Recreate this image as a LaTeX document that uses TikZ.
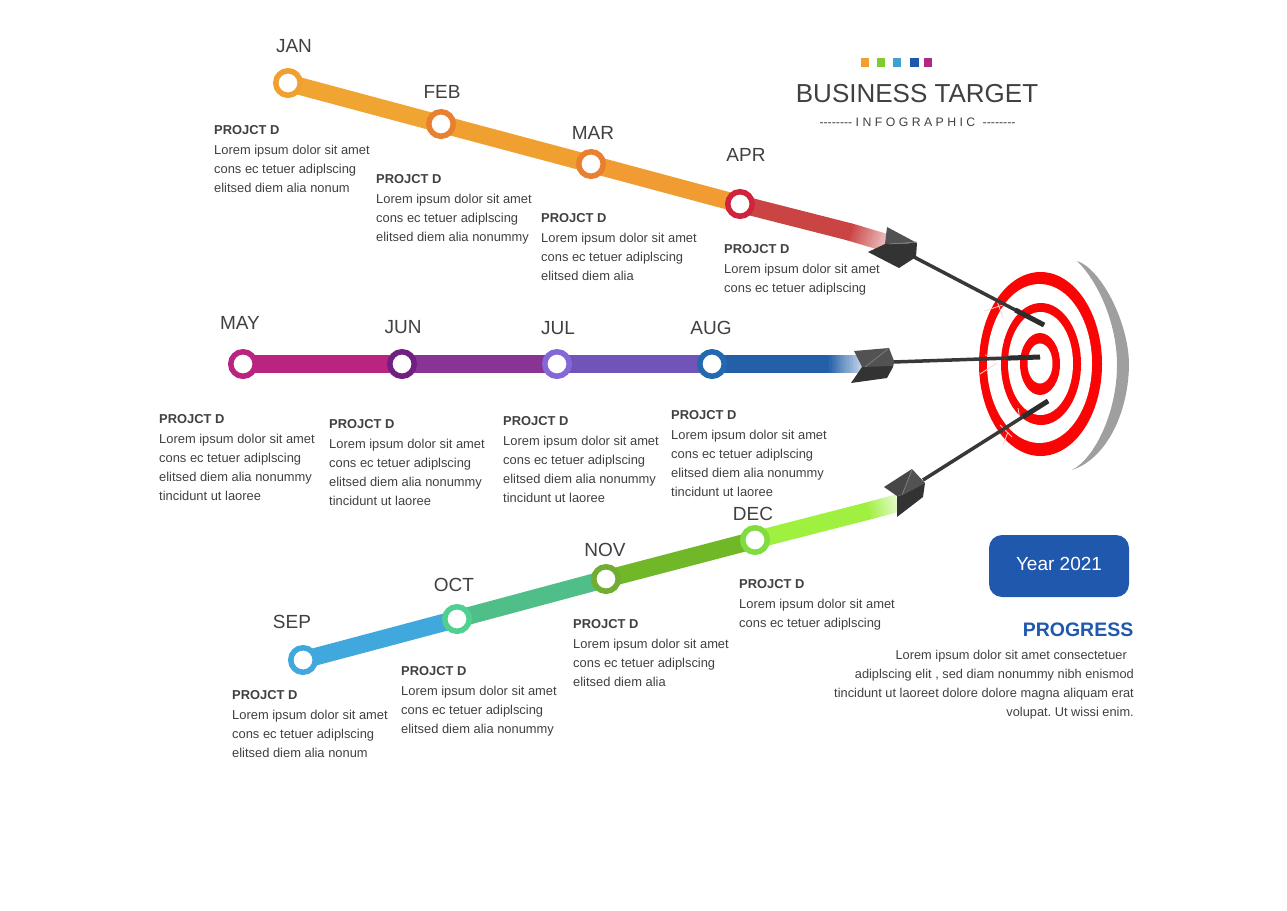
\documentclass[tikz,border=0pt]{standalone}
\usepackage{fontspec}
\setmainfont{Liberation Sans}
\newfontfamily\plainfont{Liberation Sans}
\usetikzlibrary{backgrounds,calc}
\definecolor{textgray}{HTML}{404040}
\definecolor{targetred}{HTML}{FA0505}
\definecolor{yearblue}{HTML}{2058AE}
\definecolor{shaftgray}{HTML}{383838}
\definecolor{wingup}{HTML}{525252}
\definecolor{winglow}{HTML}{333333}
\definecolor{crackpink}{HTML}{F6D4D4}
\definecolor{ringjan}{HTML}{F0A030}
\definecolor{ringfeb}{HTML}{E88030}
\definecolor{ringapr}{HTML}{D0243C}
\definecolor{ringmay}{HTML}{B82480}
\definecolor{ringjun}{HTML}{702080}
\definecolor{ringjul}{HTML}{8468D8}
\definecolor{ringaug}{HTML}{2468B0}
\definecolor{ringsep}{HTML}{40A8DC}
\definecolor{ringoct}{HTML}{50D090}
\definecolor{ringnov}{HTML}{70AD30}
\definecolor{ringdec}{HTML}{80DC40}
\definecolor{bandjan}{HTML}{F0A532}
\definecolor{bandfeb}{HTML}{F0A030}
\definecolor{bandmar}{HTML}{F09C32}
\definecolor{bandapr}{HTML}{CB4444}
\definecolor{bandjun}{HTML}{883494}
\definecolor{bandjul}{HTML}{7054B8}
\definecolor{bandaug}{HTML}{2460A8}
\definecolor{bandoct}{HTML}{50BE88}
\definecolor{bandnov}{HTML}{70B828}
\definecolor{banddec}{HTML}{A0F040}
\definecolor{sqgreen}{HTML}{80CC30}
\definecolor{sqblue}{HTML}{40A0D0}
\definecolor{sqnavy}{HTML}{2058B0}
\definecolor{sqmagenta}{HTML}{B02888}
\tikzset{
  monthdot/.style={circle,draw=#1,line width=5.5pt,fill=white,minimum size=24.5pt,inner sep=0pt},
  monthname/.style={font=\fontsize{19}{22}\selectfont,text=textgray},
  note/.style={anchor=north west,inner sep=0pt,align=left,font=\fontsize{12.9}{19}\selectfont,text=textgray},
  square/.style={fill=#1,minimum size=8.5pt,inner sep=0pt},
  band/.style={line width=17.5pt,draw=#1},
  shaft/.style={line width=3.5pt,draw=shaftgray},
  shafttip/.style={line width=5pt,draw=shaftgray!80!black},
  crack/.style={line width=0.8pt,draw=crackpink}
}
\newcommand{\fadeline}[3]{
  \foreach \i in {0,...,15} {
    \pgfmathtruncatemacro{\fadepct}{100-\i*4.6}
    \draw[band=#3!\fadepct!white] ($(#1)!{(\i-0.3)/16}!(#2)$) -- ($(#1)!{(\i+1)/16}!(#2)$);
  }
}
\begin{document}
\begin{tikzpicture}[x=1pt,y=-1pt]
      \useasboundingbox (0,0) rectangle (1287,910);
      % months
      \draw
        (288,83) node[monthdot=ringjan] (jan){}
        (441,124) node[monthdot=ringfeb] (feb){}
        (591,164) node[monthdot=ringfeb] (mar){}
        (740,204) node[monthdot=ringapr] (apr){}
        (243,364) node[monthdot=ringmay] (may){}
        (402,364) node[monthdot=ringjun] (jun){}
        (557,364) node[monthdot=ringjul] (jul){}
        (712,364) node[monthdot=ringaug] (aug){}
        (303,660) node[monthdot=ringsep] (sep){}
        (457,619) node[monthdot=ringoct] (oct){}
        (606,579) node[monthdot=ringnov] (nov){}
        (755,540) node[monthdot=ringdec] (dec){};
      \draw
        (294,46.5) node[monthname] (janname){JAN}
        (442,91.5) node[monthname] (febname){FEB}
        (593,132.5) node[monthname] (marname){MAR}
        (746,154.5) node[monthname] (aprname){APR}
        (240,322.5) node[monthname] (mayname){MAY}
        (403,327.5) node[monthname] (junname){JUN}
        (558,328.5) node[monthname] (julname){JUL}
        (711,327.5) node[monthname] (augname){AUG}
        (292,621.5) node[monthname] (sepname){SEP}
        (454,584.5) node[monthname] (octname){OCT}
        (605,549.5) node[monthname] (novname){NOV}
        (753,513.5) node[monthname] (decname){DEC};
      % ends of the bands, under the arrows
      \coordinate (aprfade) at (850,232);
      \coordinate (aprend) at (890,244);
      \coordinate (augfade) at (828,364);
      \coordinate (augend) at (862,364);
      \coordinate (decfade) at (868,511);
      \coordinate (decend) at (898,503);
      \begin{scope}[on background layer]
        \draw[band=bandjan] (jan.center) to (feb.center);
        \draw[band=bandfeb] (feb.center) to (mar.center);
        \draw[band=bandmar] (mar.center) to (apr.center);
        \draw[band=bandapr] (apr.center) to (aprfade);
        \fadeline{aprfade}{aprend}{bandapr}
        \draw[band=ringmay] (may.center) to (jun.center);
        \draw[band=bandjun] (jun.center) to (jul.center);
        \draw[band=bandjul] (jul.center) to (aug.center);
        \draw[band=bandaug] (aug.center) to (augfade);
        \fadeline{augfade}{augend}{bandaug}
        \draw[band=ringsep] (sep.center) to (oct.center);
        \draw[band=bandoct] (oct.center) to (nov.center);
        \draw[band=bandnov] (nov.center) to (dec.center);
        \draw[band=banddec] (dec.center) to (decfade);
        \fadeline{decfade}{decend}{banddec}
      \end{scope}
      % notes
      \node[note] (jannote) at (214,125.5) {\textbf{PROJCT D}\\[1pt]Lorem ipsum dolor sit amet\\cons ec tetuer adiplscing\\elitsed diem alia nonum};
      \node[note] (febnote) at (376,174.5) {\textbf{PROJCT D}\\[1pt]Lorem ipsum dolor sit amet\\cons ec tetuer adiplscing\\elitsed diem alia nonummy};
      \node[note] (marnote) at (541,213.5) {\textbf{PROJCT D}\\[1pt]Lorem ipsum dolor sit amet\\cons ec tetuer adiplscing\\elitsed diem alia};
      \node[note] (aprnote) at (724,244.5) {\textbf{PROJCT D}\\[1pt]Lorem ipsum dolor sit amet\\cons ec tetuer adiplscing};
      \node[note] (maynote) at (159,414.5) {\textbf{PROJCT D}\\[1pt]Lorem ipsum dolor sit amet\\cons ec tetuer adiplscing\\elitsed diem alia nonummy\\tincidunt ut laoree};
      \node[note] (junnote) at (329,419.5) {\textbf{PROJCT D}\\[1pt]Lorem ipsum dolor sit amet\\cons ec tetuer adiplscing\\elitsed diem alia nonummy\\tincidunt ut laoree};
      \node[note] (julnote) at (503,416.5) {\textbf{PROJCT D}\\[1pt]Lorem ipsum dolor sit amet\\cons ec tetuer adiplscing\\elitsed diem alia nonummy\\tincidunt ut laoree};
      \node[note] (augnote) at (671,410.5) {\textbf{PROJCT D}\\[1pt]Lorem ipsum dolor sit amet\\cons ec tetuer adiplscing\\elitsed diem alia nonummy\\tincidunt ut laoree};
      \node[note] (sepnote) at (232,690.5) {\textbf{PROJCT D}\\[1pt]Lorem ipsum dolor sit amet\\cons ec tetuer adiplscing\\elitsed diem alia nonum};
      \node[note] (octnote) at (401,666.5) {\textbf{PROJCT D}\\[1pt]Lorem ipsum dolor sit amet\\cons ec tetuer adiplscing\\elitsed diem alia nonummy};
      \node[note] (novnote) at (573,619.5) {\textbf{PROJCT D}\\[1pt]Lorem ipsum dolor sit amet\\cons ec tetuer adiplscing\\elitsed diem alia};
      \node[note] (decnote) at (739,579.5) {\textbf{PROJCT D}\\[1pt]Lorem ipsum dolor sit amet\\cons ec tetuer adiplscing};
      % title
      \draw
        (865,62.5) node[square=ringjan] (orange){}
        (881,62.5) node[square=sqgreen] (green){}
        (897,62.5) node[square=sqblue] (blue){}
        (914.5,62.5) node[square=sqnavy] (navy){}
        (928,62.5) node[square=sqmagenta] (magenta){};
      \node[font=\fontsize{26}{30}\selectfont,text=textgray] (title) at (917,94) {BUSINESS TARGET};
      \node[font=\fontsize{12.3}{15}\plainfont,text=textgray] (subtitle) at (917.5,122) {-------- I N F O G R A P H I C\kern4pt{} --------};
      % target
      \fill[gray!75] (1077,261) .. controls (1100,268) and (1128,320) .. (1129,363)
        .. controls (1129,410) and (1108,458) .. (1072,470)
        .. controls (1095,458) and (1117,412) .. (1117,365)
        .. controls (1117,322) and (1097,280) .. cycle;
      \fill[targetred] (1040.5,364) ellipse (61.5 and 92);
      \fill[white] (1039.5,363.5) ellipse (52.5 and 79.5);
      \fill[targetred] (1041,364) ellipse (40 and 61);
      \fill[white] (1040.5,363.5) ellipse (32.5 and 51.5);
      \fill[targetred] (1040,364) ellipse (20 and 31);
      \fill[white] (1040,363.5) ellipse (12.5 and 20);
      \begin{scope}
        \draw[crack] (984,311) to (1003,305);
        \draw[crack] (996,298) to (1003,318);
        \draw[crack] (980,374) to (997,363);
        \draw[crack] (985,355) to (1003,358);
        \draw[crack] (1000,425) to (1012,437);
        \draw[crack] (1008,432) to (1003,445);
        \draw[crack] (1018,408) to (1020,420);
      \end{scope}
      % arrows
      \coordinate (tailA) at (914,257);
      \coordinate (tipA) at (1044,325);
      \coordinate (tailB) at (893,362);
      \coordinate (tipB) at (1040,357);
      \coordinate (tailC) at (923,480);
      \coordinate (tipC) at (1048,401);
      \draw[shaft] (tailA) to (tipA);
      \draw[shaft] (tailB) to (tipB);
      \draw[shaft] (tailC) to (tipC);
      \draw[shafttip] ($(tailA)!0.78!(tipA)$) to (tipA);
      \draw[shafttip] ($(tailB)!0.78!(tipB)$) to (tipB);
      \draw[shafttip] ($(tailC)!0.8!(tipC)$) to (tipC);
      \fill[winglow] (885,244) -- (868,252) -- (899,268) -- (916,257) -- (917,243) -- cycle;
      \fill[wingup] (887,227) -- (917,243) -- (885,244) -- cycle;
      \draw[gray,line width=0.7pt] (889,244) -- (917,242);
      \fill[winglow] (862,367) -- (894,361) -- (893,367) -- (887,378) -- (851,383) -- cycle;
      \fill[wingup] (854,351) -- (889,348) -- (894,361) -- (893,366) -- (862,367) -- cycle;
      \draw[gray,line width=0.7pt] (865,367) -- (888,349);
      \fill[winglow!90!white] (884,487) -- (912,469) -- (902,495) -- (897,496) -- cycle;
      \fill[wingup] (912,469) -- (925,483) -- (902,495) -- cycle;
      \fill[winglow] (897,496) -- (902,495) -- (925,483) -- (923,497) -- (897,517) -- cycle;
      \draw[gray,line width=0.7pt] (902,495) -- (912,470);
      % year and progress
      \node[fill=yearblue,rounded corners=13pt,minimum width=140pt,minimum height=62pt,inner sep=0pt,text=white,font=\fontsize{19}{22}\selectfont] (year) at (1059,566) {\raisebox{3.5pt}{Year 2021}};
      \node[anchor=east,inner sep=0pt,text=yearblue,font=\fontsize{19.5}{24}\bfseries] (progress) at (1133.5,630) {PROGRESS};
      \node[anchor=north east,inner sep=0pt,align=right,text=textgray,font=\fontsize{12.8}{18.7}\selectfont] (progressnote) at (1134,650.5) {Lorem ipsum dolor sit amet consectetuer\kern7pt\\adiplscing elit , sed diam nonummy nibh enismod\\tincidunt ut laoreet dolore dolore magna aliquam erat\\volupat.\ Ut wissi enim.};
    \end{tikzpicture}
\end{document}
